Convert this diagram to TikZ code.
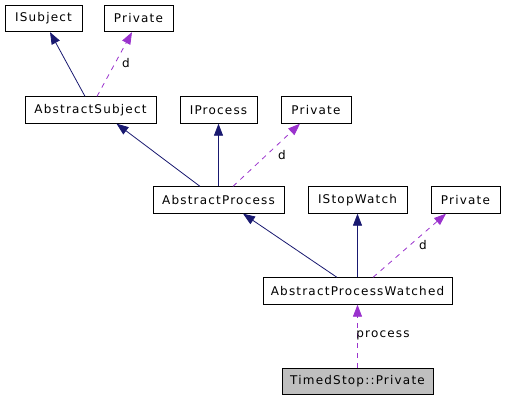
\documentclass[tikz,border=0pt]{standalone}
\usepackage{fontspec}
\usetikzlibrary{arrows.meta}
\newfontfamily\dxfont[LetterSpace=10]{DejaVu Sans}
\definecolor{inhblue}{HTML}{191970}
\definecolor{usepurple}{HTML}{9A32CD}
\definecolor{curgray}{HTML}{BFBFBF}

\begin{document}
\begin{tikzpicture}[x=1pt, y=-1pt,
    font=\dxfont\fontsize{12}{14}\selectfont,
    cls/.style={draw=black, line width=0.8pt, fill=white, inner sep=0pt, minimum height=26.5pt},
    inh/.style={draw=inhblue, line width=0.8pt, -{Triangle[length=12pt,width=9pt]}},
    usage/.style={draw=usepurple, line width=0.8pt, dash pattern=on 5pt off 5pt, -{Triangle[length=12pt,width=9pt]}, color=usepurple},
    lbl/.style={text=black, inner sep=0pt}]
    \useasboundingbox (0,0) rectangle (505,400);

    % classes
    \node[cls, minimum width=77pt] (isubject) at (43.5,18.5) {ISubject};
    \node[cls, minimum width=69pt] (privA) at (138.5,18.5) {Private};
    \node[cls, minimum width=131pt] (asubject) at (90.5,110) {AbstractSubject};
    \node[cls, minimum width=77pt] (iprocess) at (218.5,110) {IProcess};
    \node[cls, minimum width=70pt] (privB) at (316,110) {Private};
    \node[cls, minimum width=131pt] (aprocess) at (218.5,200) {AbstractProcess};
    \node[cls, minimum width=99pt] (istopwatch) at (357.5,200) {IStopWatch};
    \node[cls, minimum width=69pt] (privC) at (465.5,200) {Private};
    \node[cls, minimum width=189pt] (apwatched) at (357.5,291) {AbstractProcessWatched};
    \node[cls, minimum width=151pt, fill=curgray] (tsprivate) at (357.5,381.5) {TimedStop::Private};

    % inheritance
    \draw[inh] ([xshift=-5.5pt]asubject.north) -- ([xshift=6.5pt]isubject.south);
    \draw[inh] ([xshift=-18.5pt]aprocess.north) -- ([xshift=26pt]asubject.south);
    \draw[inh] (aprocess.north) -- (iprocess.south);
    \draw[inh] ([xshift=-20.5pt]apwatched.north) -- ([xshift=24.5pt]aprocess.south);
    \draw[inh] (apwatched.north) -- (istopwatch.south);

    % usage
    \draw[usage] ([xshift=6.5pt]asubject.north) -- ([xshift=-6.5pt]privA.south);
    \draw[usage] ([xshift=14.5pt]aprocess.north) -- ([xshift=-16pt]privB.south);
    \draw[usage] ([xshift=15.5pt]apwatched.north) -- ([xshift=-19.5pt]privC.south);
    \draw[usage] (tsprivate.north) -- (apwatched.south);

    \node[lbl] (dA) at (126,63) {d};
    \node[lbl] (dB) at (282,155) {d};
    \node[lbl] (dC) at (423,245) {d};
    \node[lbl] (proc) at (383,335) {process};
\end{tikzpicture}
\end{document}
